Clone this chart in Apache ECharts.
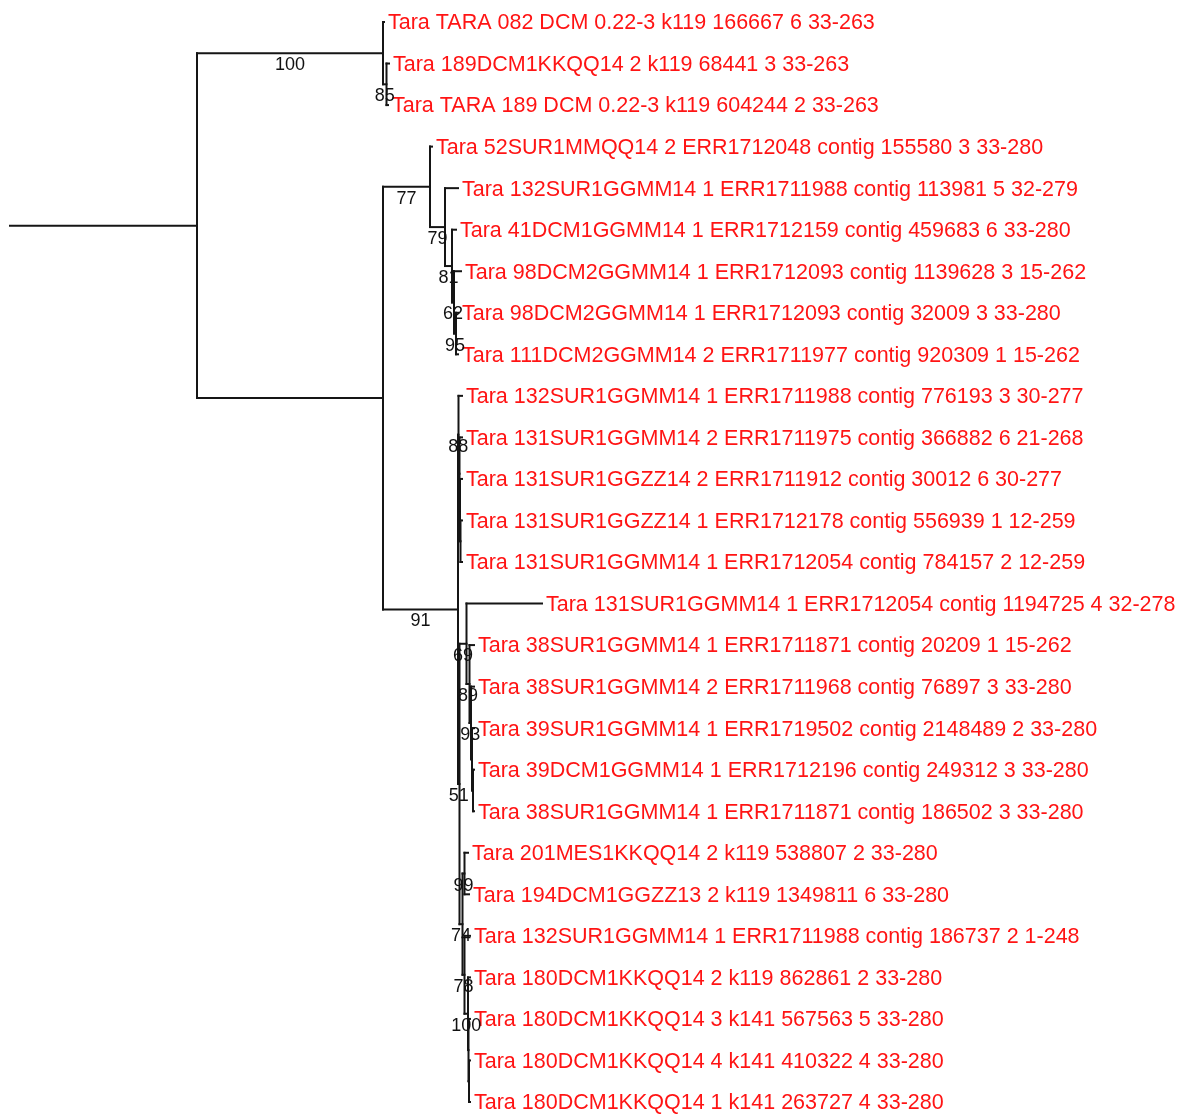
<!DOCTYPE html>
<html>
<head>
<meta charset="utf-8">
<script src="https://cdn.jsdelivr.net/npm/echarts@6/dist/echarts.min.js"></script>
<style>
html, body { margin: 0; padding: 0; background: #fff; }
#tree { width: 1178px; height: 1118px; }
</style>
</head>
<body>
<div id="tree"></div>
<script>
var leafNames = [
    'Tara TARA 082 DCM 0.22-3 k119 166667 6 33-263',
    'Tara 189DCM1KKQQ14 2 k119 68441 3 33-263',
    'Tara TARA 189 DCM 0.22-3 k119 604244 2 33-263',
    'Tara 52SUR1MMQQ14 2 ERR1712048 contig 155580 3 33-280',
    'Tara 132SUR1GGMM14 1 ERR1711988 contig 113981 5 32-279',
    'Tara 41DCM1GGMM14 1 ERR1712159 contig 459683 6 33-280',
    'Tara 98DCM2GGMM14 1 ERR1712093 contig 1139628 3 15-262',
    'Tara 98DCM2GGMM14 1 ERR1712093 contig 32009 3 33-280',
    'Tara 111DCM2GGMM14 2 ERR1711977 contig 920309 1 15-262',
    'Tara 132SUR1GGMM14 1 ERR1711988 contig 776193 3 30-277',
    'Tara 131SUR1GGMM14 2 ERR1711975 contig 366882 6 21-268',
    'Tara 131SUR1GGZZ14 2 ERR1711912 contig 30012 6 30-277',
    'Tara 131SUR1GGZZ14 1 ERR1712178 contig 556939 1 12-259',
    'Tara 131SUR1GGMM14 1 ERR1712054 contig 784157 2 12-259',
    'Tara 131SUR1GGMM14 1 ERR1712054 contig 1194725 4 32-278',
    'Tara 38SUR1GGMM14 1 ERR1711871 contig 20209 1 15-262',
    'Tara 38SUR1GGMM14 2 ERR1711968 contig 76897 3 33-280',
    'Tara 39SUR1GGMM14 1 ERR1719502 contig 2148489 2 33-280',
    'Tara 39DCM1GGMM14 1 ERR1712196 contig 249312 3 33-280',
    'Tara 38SUR1GGMM14 1 ERR1711871 contig 186502 3 33-280',
    'Tara 201MES1KKQQ14 2 k119 538807 2 33-280',
    'Tara 194DCM1GGZZ13 2 k119 1349811 6 33-280',
    'Tara 132SUR1GGMM14 1 ERR1711988 contig 186737 2 1-248',
    'Tara 180DCM1KKQQ14 2 k119 862861 2 33-280',
    'Tara 180DCM1KKQQ14 3 k141 567563 5 33-280',
    'Tara 180DCM1KKQQ14 4 k141 410322 4 33-280',
    'Tara 180DCM1KKQQ14 1 k141 263727 4 33-280'
];

// topology with branch lengths (L<n> = leafNames[n]), bootstrap after ')'
var cladeTop = '(L0:0.01,(L1:0.025,L2:0.015)85:0.035)100:1.86';
var clade77 = '(L3:0.02,(L4:0.13,(L5:0.04,(L6:0.07,(L7:0.02,L8:0.02)95:0.02)62:0.02)81:0.07)79:0.15)77:0.47';
var clade88 = '(L9:0.035,(L10:0.025,(L11:0.02,(L12:0.015,L13:0.015):0.005):0.005):0.01)88:0.005';
var clade69 = '(L14:0.755,(L15:0.045,(L16:0.03,(L17:0.02,(L18:0.01,L19:0.01):0.01):0.01)93:0.015)89:0.03)69:0.07';
var clade74 = '((L20:0.035,L21:0.045)99:0.02,(L22:0.055,(L23:0.02,(L24:0.015,(L25:0.01,L26:0.01):0.005):0.005)100:0.035)78:0.02)74:0.03';
var newick = '(' + cladeTop + ',(' + clade77 + ',(' + clade88 + ',(' + clade69 + ',' + clade74 + ')51:0.015)91:0.75):1.86);';
var rootStem = 1.87;

function parseNewick(s) {
    var pos = 0;
    function word() {
        var start = pos;
        while (pos < s.length && ',():;'.indexOf(s[pos]) < 0) pos++;
        return s.slice(start, pos);
    }
    function node() {
        var n = { children: [] };
        if (s[pos] === '(') {
            pos++;
            n.children.push(node());
            while (s[pos] === ',') { pos++; n.children.push(node()); }
            pos++;
        }
        var label = word();
        n.len = 0;
        if (s[pos] === ':') { pos++; n.len = parseFloat(word()); }
        if (n.children.length) n.support = label;
        else n.leaf = parseInt(label.slice(1), 10);
        return n;
    }
    return node();
}

var root = parseNewick(newick);
var segments = [], tips = [], supports = [];

function layout(n, x) {
    n.x = x;
    if (!n.children.length) {
        n.y = n.leaf;
        tips.push([n.x, n.y, n.leaf]);
        return;
    }
    n.children.forEach(function (c) {
        layout(c, x + c.len);
    });
    var first = n.children[0], last = n.children[n.children.length - 1];
    n.y = (first.y + last.y) / 2;
    segments.push([n.x, first.y, n.x, last.y]);
    n.children.forEach(function (c) {
        segments.push([n.x, c.y, c.x, c.y]);
        if (c.support) supports.push([(n.x + c.x) / 2, c.y, c.support]);
    });
}
layout(root, rootStem);
segments.push([0, root.y, root.x, root.y]);

var chart = echarts.init(document.getElementById('tree'));

chart.setOption({
    animation: false,
    grid: { left: 10, right: 0, top: 22, bottom: 16 },
    xAxis: { type: 'value', min: 0, max: 11.68, show: false },
    yAxis: { type: 'value', min: 0, max: 26, inverse: true, show: false },
    series: [
        {
            type: 'custom',
            data: segments,
            encode: { x: [0, 2], y: [1, 3] },
            renderItem: function (params, api) {
                var a = api.coord([api.value(0), api.value(1)]);
                var b = api.coord([api.value(2), api.value(3)]);
                return {
                    type: 'line',
                    shape: { x1: a[0], y1: a[1], x2: b[0], y2: b[1] },
                    style: { stroke: '#151515', lineWidth: 2, lineCap: 'square' }
                };
            }
        },
        {
            type: 'custom',
            data: tips,
            encode: { x: 0, y: 1 },
            renderItem: function (params, api) {
                var p = api.coord([api.value(0), api.value(1)]);
                return {
                    type: 'text',
                    x: p[0] + 4,
                    y: p[1] + 1.5,
                    style: {
                        text: leafNames[tips[params.dataIndex][2]],
                        fill: '#ff1414',
                        fontSize: 21.5,
                        fontFamily: '"Liberation Sans", Arial, sans-serif',
                        align: 'left',
                        verticalAlign: 'middle'
                    }
                };
            }
        },
        {
            type: 'custom',
            data: supports,
            encode: { x: 0, y: 1 },
            renderItem: function (params, api) {
                var p = api.coord([api.value(0), api.value(1)]);
                return {
                    type: 'text',
                    x: p[0],
                    y: p[1] + 12,
                    style: {
                        text: supports[params.dataIndex][2],
                        fill: '#111',
                        fontSize: 18,
                        fontFamily: '"Liberation Sans", Arial, sans-serif',
                        align: 'center',
                        verticalAlign: 'middle'
                    }
                };
            }
        }
    ]
});
</script>
</body>
</html>
